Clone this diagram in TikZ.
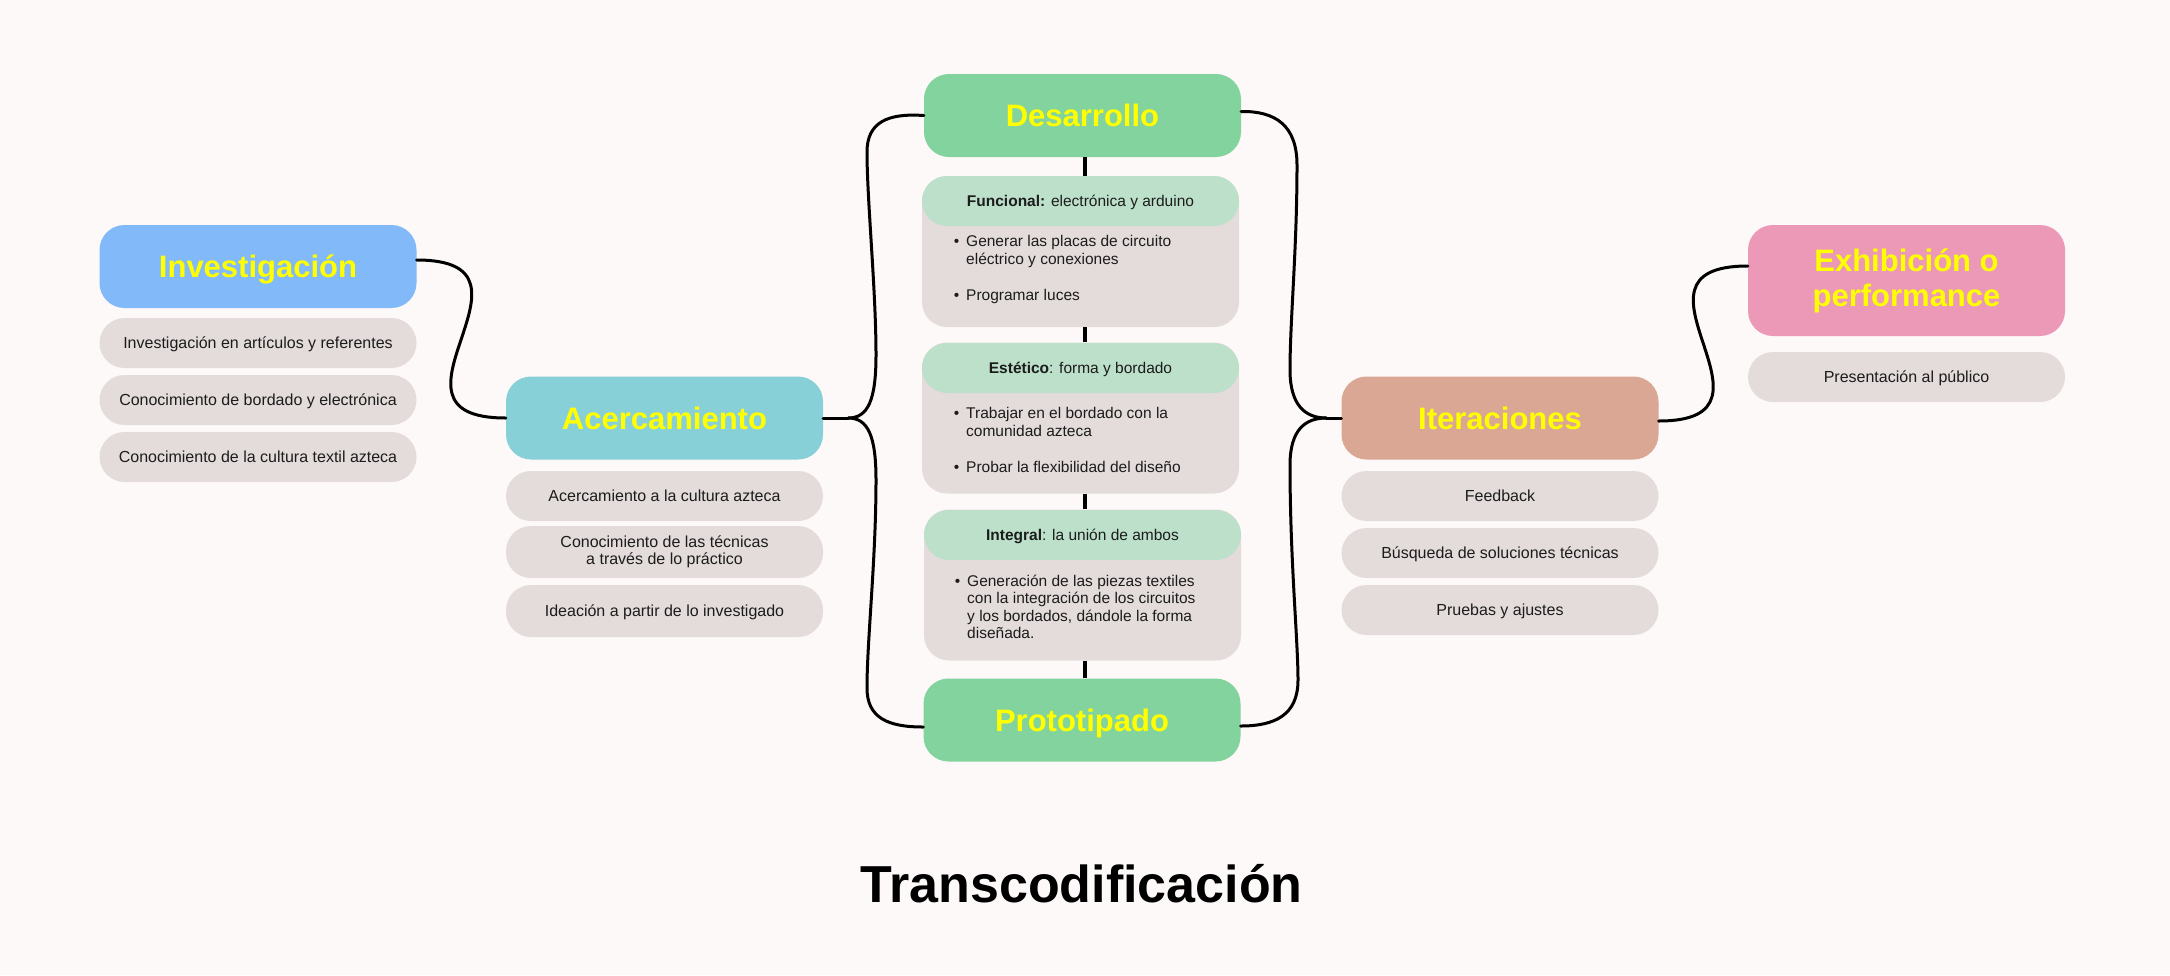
\documentclass[tikz,border=0pt]{standalone}
\usepackage{fontspec}
\setmainfont{Liberation Sans}
\usetikzlibrary{calc}
\definecolor{bg}{HTML}{FDF9F8}
\definecolor{cInv}{HTML}{82B9F9}
\definecolor{cAcer}{HTML}{88D0D8}
\definecolor{cDes}{HTML}{82D39E}
\definecolor{cHead}{HTML}{BCE0C9}
\definecolor{cGrey}{HTML}{E4DCDB}
\definecolor{cIter}{HTML}{DBA795}
\definecolor{cExh}{HTML}{EC98B7}
\definecolor{cYel}{HTML}{FFFF00}
\definecolor{cText}{HTML}{1C1C1C}
\begin{document}
\begin{tikzpicture}[x=1pt,y=-1pt,
 mainbox/.style={rounded corners=25pt, inner sep=0pt, minimum width=317pt, minimum height=83pt, text=cYel, font=\fontsize{31}{35}\selectfont\bfseries, align=center},
 pill/.style={rounded corners=25pt, fill=cGrey, inner sep=0pt, minimum width=317pt, minimum height=50pt, font=\fontsize{16}{17.5}\selectfont, text=cText, align=center},
 one/.style={text height=11.5pt, text depth=0pt},
 bigone/.style={text height=22.5pt, text depth=0pt},
 bodybox/.style={rounded corners=25pt, fill=cGrey, inner sep=0pt, minimum width=317pt, minimum height=151pt},
 headbox/.style={rounded corners=25pt, fill=cHead, inner sep=0pt, minimum width=317pt, minimum height=50pt, font=\fontsize{15.5}{17.5}\selectfont, text=cText, text height=11pt, text depth=0pt},
 itemtext/.style={anchor=north west, inner sep=0pt, align=left, font=\fontsize{15.5}{17.5}\selectfont, text=cText},
 link/.style={line width=3pt, line cap=round},
 stem/.style={line width=4.5pt}
]
\fill[bg] (0,0) rectangle (2170,975);
\useasboundingbox (0,0) rectangle (2170,975);

% Investigacion
\node[mainbox, bigone, fill=cInv] (inv) at (258,266.5) {Investigación};
\node[pill, one] (inv1) at (258,343) {Investigación en artículos y referentes};
\node[pill, one] (inv2) at (258,400) {Conocimiento de bordado y electrónica};
\node[pill, one] (inv3) at (258,457) {Conocimiento de la cultura textil azteca};

% Acercamiento
\node[mainbox, bigone, fill=cAcer] (acer) at (664.5,418) {Acercamiento};
\node[pill, one] (acer1) at (664.5,496) {Acercamiento a la cultura azteca};
\node[pill, minimum height=52pt] (acer2) at (664.5,552) {Conocimiento de las técnicas\\a través de lo práctico};
\node[pill, one, minimum height=52pt] (acer3) at (664.5,611) {Ideación a partir de lo investigado};

% Desarrollo
\node[mainbox, bigone, fill=cDes] (desa) at (1082.5,115.5) {Desarrollo};

\node[bodybox] (funcB) at (1080.5,251.5) {};
\node[headbox] (funcH) at (1080.5,201) {\textbf{Funcional:} electrónica y arduino};
\node[itemtext] (func1) at (966,235.5) {\llap{\textbullet\hspace{7pt}}Generar las placas de circuito\\eléctrico y conexiones};
\node[itemtext] (func2) at (966,289.5) {\llap{\textbullet\hspace{7pt}}Programar luces};

\node[bodybox] (estB) at (1080.5,418) {};
\node[headbox] (estH) at (1080.5,368) {\textbf{Estético}: forma y bordado};
\node[itemtext] (est1) at (966,407.5) {\llap{\textbullet\hspace{7pt}}Trabajar en el bordado con la\\comunidad azteca};
\node[itemtext] (est2) at (966,461.5) {\llap{\textbullet\hspace{7pt}}Probar la flexibilidad del diseño};

\node[bodybox] (intB) at (1082.5,585) {};
\node[headbox] (intH) at (1082.5,535) {\textbf{Integral}: la unión de ambos};
\node[itemtext] (int1) at (967,574.5) {\llap{\textbullet\hspace{7pt}}Generación de las piezas textiles\\con la integración de los circuitos\\y los bordados, dándole la forma\\diseñada.};

\node[mainbox, bigone, fill=cDes] (proto) at (1082,720) {Prototipado};

% Iteraciones
\node[mainbox, bigone, fill=cIter] (iter) at (1500,418) {Iteraciones};
\node[pill, one] (iter1) at (1500,496) {Feedback};
\node[pill, one] (iter2) at (1500,553) {Búsqueda de soluciones técnicas};
\node[pill, one] (iter3) at (1500,610) {Pruebas y ajustes};

% Exhibicion
\node[mainbox, fill=cExh, minimum height=111pt] (exh) at (1906.5,280.5) {Exhibición o\\performance};
\node[pill, one] (exh1) at (1906.5,377) {Presentación al público};

% Title
\node[font=\fontsize{52}{60}\selectfont\bfseries, anchor=base, inner sep=0pt] (title) at (1081.5,902) {Transcodificación};

% connectors
\draw[link] ([yshift=6.5pt]inv.east) to[out=0,in=180,looseness=2] (acer.west);

\coordinate (tipL) at ($(acer.east)+(25,0)$);
\draw[link] (acer.east) -- (tipL);
\draw[link] (tipL) .. controls (868,418) and (876,400) .. (876,355)
  .. controls (876,290) and (867,200) .. (867,152)
  .. controls (867,122) and (888,113) .. (desa.west);
\draw[link] (tipL) .. controls (868,418) and (876,436) .. (876,480)
  .. controls (876,560) and (867,640) .. (867,688)
  .. controls (867,718) and (888,727) .. ([yshift=-7pt]proto.west);

\coordinate (tipR) at ($(iter.west)+(-15,0)$);
\draw[link] (tipR) -- (iter.west);
\draw[link] ([yshift=4pt]desa.east) .. controls (1275,111) and (1297,125) .. (1297,165)
  .. controls (1297,250) and (1290,320) .. (1290,370)
  .. controls (1290,405) and (1305,418) .. (tipR);
\draw[link] (tipR) .. controls (1305,418) and (1290,430) .. (1290,465)
  .. controls (1290,560) and (1298,640) .. (1298,680)
  .. controls (1298,715) and (1275,726) .. ([yshift=-6pt]proto.east);

\draw[link] ([yshift=-3pt]iter.east) to[out=0,in=180,looseness=2] ([yshift=14.5pt]exh.west);

% stems
\coordinate (sx) at ($(desa.south)+(2.5,0)$);
\draw[stem] (sx) -- (sx |- funcB.north);
\draw[stem] (sx |- funcB.south) -- (sx |- estB.north);
\draw[stem] (sx |- estB.south) -- (sx |- intB.north);
\draw[stem] (sx |- intB.south) -- (sx |- proto.north);
\end{tikzpicture}
\end{document}
